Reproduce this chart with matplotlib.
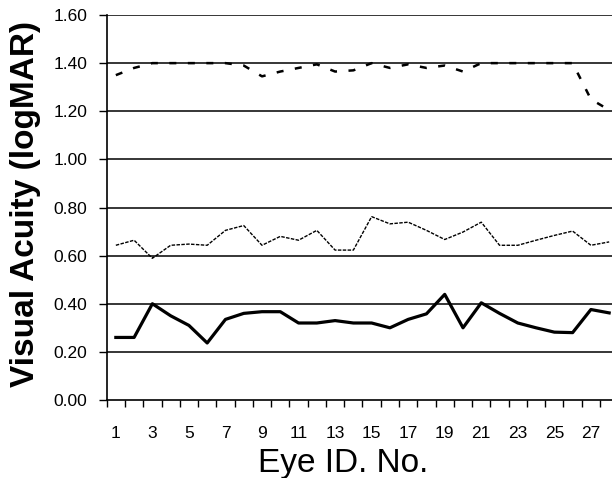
import matplotlib
matplotlib.use('Agg')
import matplotlib.pyplot as plt

plt.rcParams['font.family'] = ['Liberation Sans', 'DejaVu Sans']

eye_ids = list(range(1, 29))

# baseline (top, dashed)
va_top = [1.35, 1.38, 1.40, 1.40, 1.40, 1.40, 1.40, 1.39, 1.345, 1.365,
          1.38, 1.395, 1.365, 1.37, 1.40, 1.38, 1.395, 1.38, 1.39, 1.365,
          1.40, 1.40, 1.40, 1.40, 1.40, 1.40, 1.25, 1.205]

# middle (dotted)
va_mid = [0.643, 0.664, 0.589, 0.643, 0.648, 0.643, 0.705, 0.725, 0.643, 0.68,
          0.664, 0.705, 0.623, 0.623, 0.762, 0.732, 0.739, 0.705, 0.667, 0.698,
          0.739, 0.643, 0.643, 0.664, 0.684, 0.702, 0.643, 0.657]

# bottom (solid, thick)
va_low = [0.26, 0.26, 0.40, 0.35, 0.31, 0.237, 0.335, 0.36, 0.367, 0.367,
          0.32, 0.32, 0.33, 0.32, 0.32, 0.30, 0.335, 0.358, 0.439, 0.30,
          0.404, 0.36, 0.32, 0.30, 0.282, 0.28, 0.376, 0.362]

y_ticks = [0.0, 0.2, 0.4, 0.6, 0.8, 1.0, 1.2, 1.4, 1.6]

fig = plt.figure(figsize=(6.12, 4.78), dpi=100)
ax = fig.add_axes([106.7 / 612, 1 - 400 / 478, 511.6 / 612, 385 / 478])

for y in y_ticks[1:]:
    ax.axhline(y, color='black', lw=1.1, zorder=1)

ax.plot(eye_ids, va_top, color='black', lw=1.8, linestyle=(0, (2.8, 4.6)), zorder=3)
ax.plot(eye_ids, va_mid, color='black', lw=1.0, linestyle=(0, (2.5, 1.0)), zorder=3)
ax.plot(eye_ids, va_low, color='black', lw=2.3, zorder=3)

ax.set_xlim(0.5, 28.5)
ax.set_ylim(0, 1.6)
ax.set_yticks(y_ticks)
ax.set_yticklabels([f'{v:.2f}' for v in y_ticks], fontsize=12.5)
ax.set_xticks(list(range(1, 29, 2)))
ax.set_xticklabels([str(i) for i in range(1, 29, 2)], fontsize=12.5)
ax.set_xticks([i + 0.5 for i in range(0, 28)], minor=True)
ax.tick_params(axis='x', which='major', length=0, pad=19)
ax.tick_params(axis='x', which='minor', length=5, width=1.0, direction='out')
ax.tick_params(axis='y', length=6, width=1.0, direction='out', pad=8)

for s in ['top', 'right']:
    ax.spines[s].set_visible(False)
ax.spines['left'].set_linewidth(1.2)
ax.spines['bottom'].set_linewidth(1.2)

ax.set_xlabel('Eye ID. No.', fontsize=24)
ax.xaxis.set_label_coords(0.462, -0.125)
ax.set_ylabel('Visual Acuity (logMAR)', fontsize=24, fontweight='bold')
ax.yaxis.set_label_coords(-0.128, 0.51)

fig.savefig('out.png', dpi=100)
